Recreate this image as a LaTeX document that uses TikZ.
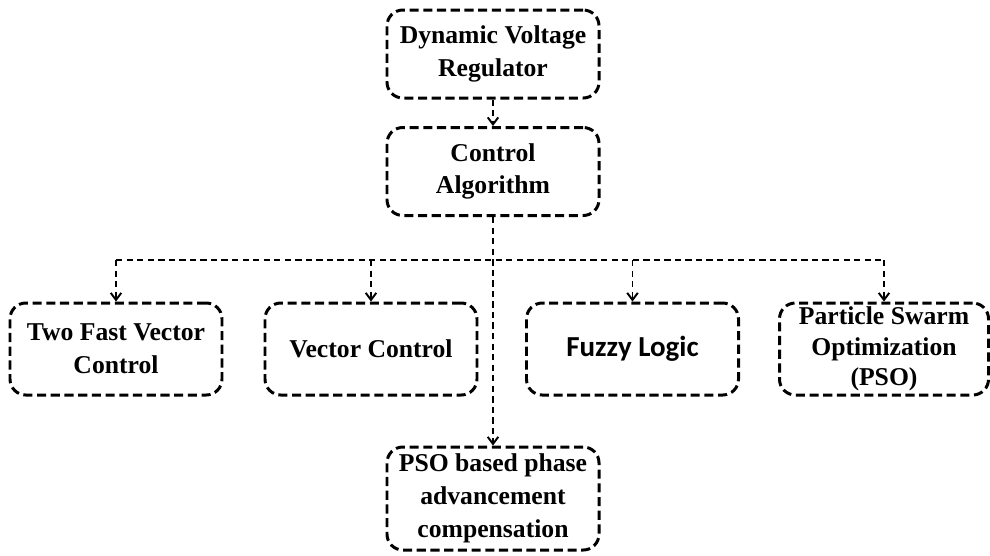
\documentclass[tikz,border=0pt]{standalone}
\usepackage{fontspec}
\setmainfont{Liberation Serif}
\newfontfamily\calfont{Carlito}
\usetikzlibrary{arrows.meta, positioning}

\begin{document}
\begin{tikzpicture}[
    block/.style={draw=black, line width=1.7pt, dash pattern=on 5.2pt off 2.6pt, rounded corners=9pt,
      minimum width=4.24cm, minimum height=1.76cm, align=center,
      font=\fontsize{14.6}{18.6}\selectfont\bfseries, inner sep=1pt},
    flow/.style={-{Straight Barb[length=4pt,width=6pt]}, line width=1.1pt, dash pattern=on 3.6pt off 2.4pt},
    busline/.style={line width=1.1pt, dash pattern=on 3.6pt off 2.4pt}
  ]
    \useasboundingbox (0,0) rectangle (19.8,-11.1);

    \node[block] (dvr) at (9.86,-1.08) {Dynamic Voltage\\Regulator};
    \node[block] (ctrl) at (9.86,-3.43) {Control\\Algorithm};
    \node[block, minimum height=1.84cm] (twofast) at (2.32,-6.98) {Two Fast Vector\\Control};
    \node[block, minimum height=1.84cm] (vector) at (7.42,-6.98) {Vector Control};
    \node[block, minimum height=1.84cm, font=\fontsize{16.5}{19}\calfont\bfseries] (fuzzy) at (12.65,-6.98) {Fuzzy Logic};
    \node[block, minimum height=1.84cm, minimum width=4.18cm, font=\fontsize{14.6}{17.4}\selectfont\bfseries] (pso) at (17.68,-6.98) {Particle Swarm\\Optimization\\(PSO)};
    \node[block, minimum height=2.06cm] (psobased) at (9.86,-9.97) {PSO based phase\\advancement\\compensation};

    % bus below the control block
    \coordinate (b1) at (twofast.north |- 0,-5.2);
    \coordinate (b2) at (vector.north |- 0,-5.2);
    \coordinate (b3) at (fuzzy.north |- 0,-5.2);
    \coordinate (b4) at (pso.north |- 0,-5.2);

    \draw[flow] (dvr) -- (ctrl);
    \draw[flow] (ctrl) -- (psobased);
    \draw[busline] (b1) -- (b4);
    \draw[flow] (b1) -- (twofast);
    \draw[flow] (b2) -- (vector);
    \draw[flow] (b3) -- (fuzzy);
    \draw[flow] (b4) -- (pso);
  \end{tikzpicture}
\end{document}
